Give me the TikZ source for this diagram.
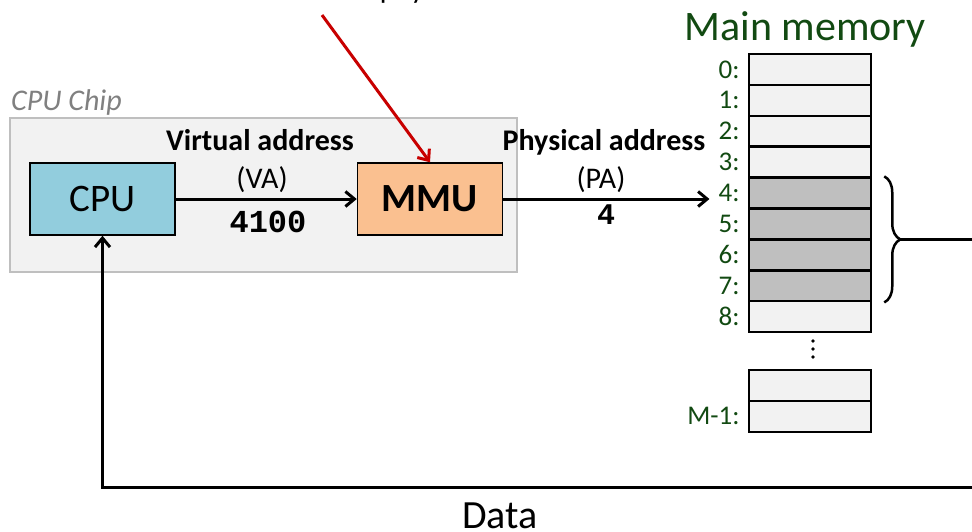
\documentclass[tikz,border=0pt]{standalone}
\usepackage{fontspec}
\setmainfont{Carlito}
\setmonofont{Liberation Mono}
\usetikzlibrary{arrows.meta,decorations.pathreplacing}

\definecolor{cpublue}{RGB}{146,205,221}
\definecolor{mmuorange}{RGB}{250,192,144}
\definecolor{chipgray}{RGB}{242,242,242}
\definecolor{chipedge}{RGB}{191,191,191}
\definecolor{pagegray}{RGB}{191,191,191}
\definecolor{memgreen}{RGB}{18,74,18}
\definecolor{arrowred}{RGB}{200,0,0}

\tikzset{
  unitbox/.style={draw, line width=1.5pt, minimum width=145pt, minimum height=72pt, inner sep=0pt},
  cell/.style={draw, line width=2.5pt, minimum width=122pt, minimum height=30.9pt, inner sep=0pt},
  addr/.style={text=memgreen, font=\fontsize{27}{30}\selectfont, anchor=east, inner sep=0pt, xshift=-8pt},
  lbl/.style={anchor=base, font=\fontsize{30}{36}\selectfont},
  arr/.style={line width=3pt, -{Straight Barb[length=9pt,width=15pt]}},
}

\begin{document}
\begin{tikzpicture}[x=1pt,y=-1pt]
\useasboundingbox (0,0) rectangle (972,531);
% note on top, cut by the page edge
\node[anchor=base west, inner sep=0pt, font=\fontsize{30}{36}\selectfont] (note) at (33,-1.5) {Translates virtual address to physical address};
\coordinate (notept) at (322,15);

% cpu chip
\node[draw=chipedge, fill=chipgray, line width=1.5pt, minimum width=507pt, minimum height=154pt] (chip) at (263.5,195) {};
\node[anchor=base west, inner sep=0pt, text=gray, font=\fontsize{30}{36}\selectfont\itshape] (chiplbl) at (11,110) {CPU Chip};
\node[unitbox, fill=cpublue, font=\fontsize{39}{40}\selectfont] (cpu) at (102.5,199) {CPU};
\node[unitbox, fill=mmuorange, font=\fontsize{40}{42}\selectfont\bfseries] (mmu) at (430,199) {MMU};

\node[lbl, font=\fontsize{30}{36}\selectfont\bfseries] (va) at (260,150) {Virtual address};
\node[lbl] (vashort) at (262,188) {(VA)};
\node[lbl, font=\fontsize{32}{36}\selectfont\ttfamily\bfseries] (vaval) at (268,232) {4100};
\node[lbl, font=\fontsize{30}{36}\selectfont\bfseries] (pa) at (604,150) {Physical address};
\node[lbl] (pashort) at (601,188) {(PA)};
\node[lbl, font=\fontsize{30}{36}\selectfont\ttfamily\bfseries] (paval) at (606,224) {4};

% main memory
\node[anchor=base, text=memgreen, font=\fontsize{42}{48}\selectfont] (memtitle) at (805,40) {Main memory};
\foreach \i/\shade in {0/chipgray,1/chipgray,2/chipgray,3/chipgray,4/pagegray,5/pagegray,6/pagegray,7/pagegray,8/chipgray}{
  \node[cell, fill=\shade] (m\i) at (810,{69.45+30.9*\i}) {};
  \node[addr] (a\i) at (m\i.west) {\i:};
}
\foreach \y in {341,349,357}
  \fill (813,\y) circle (1.8pt);
\node[cell, fill=chipgray] (mm2) at (810,385.5) {};
\node[cell, fill=chipgray] (mm1) at (810,416.4) {};
\node[addr] (am1) at (mm1.west) {M-1:};

\draw[line width=2.5pt, decorate, decoration={brace, amplitude=16pt}] ([xshift=12pt]m4.north east) -- ([xshift=12pt]m7.south east);
\coordinate (bracetip) at (900,239.5);
\coordinate (brout) at (978,239.5);
\draw[line width=2.5pt] (bracetip) -- (brout);

% connectors
\draw[arr] (cpu) -- (mmu);
\draw[arr] (mmu.east) -- ([xshift=-9pt]mmu.east -| a4.west);
\draw[arr, draw=arrowred] (notept) -- (mmu.north);
\coordinate (dataend) at (978,487.5);
\draw[arr] (dataend) -| (cpu.south);
\node[anchor=base, inner sep=0pt, font=\fontsize{40}{42}\selectfont] (data) at (500,528.5) {Data};
\end{tikzpicture}
\end{document}
